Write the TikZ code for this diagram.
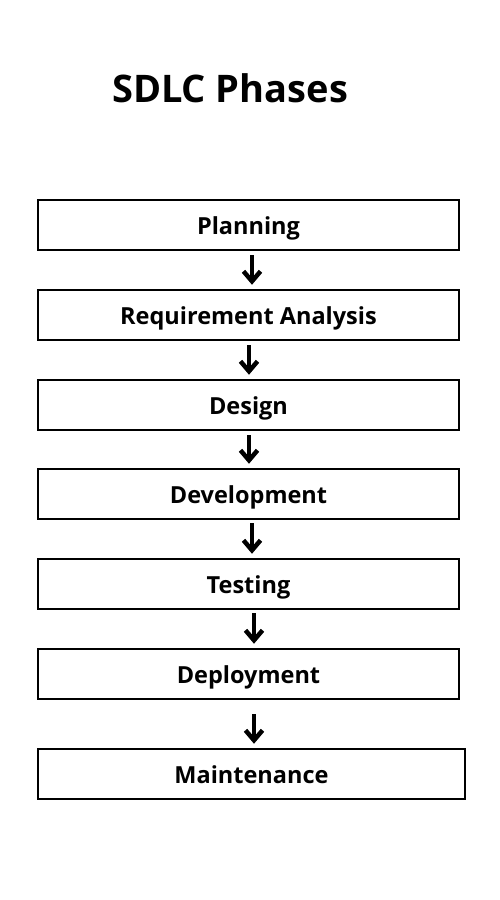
\documentclass[tikz,border=0pt]{standalone}
\usepackage{fontspec}
\setmainfont{Open Sans}
\usetikzlibrary{arrows.meta}
\begin{document}
\begin{tikzpicture}[x=1pt,y=-1pt,
  phase/.style={draw=black,line width=2.5pt,minimum height=50pt,inner sep=0pt,text height=18pt,text depth=0pt,font=\fontsize{23.5}{28}\selectfont\bfseries},
  flow/.style={line width=3.5pt,shorten <=4pt,shorten >=4pt,-{Straight Barb[length=10pt,width=17pt,line width=4.5pt]}}]
\useasboundingbox (0,0) rectangle (500,900);
\node[font=\fontsize{38}{45}\selectfont\bfseries] (title) at (230,88) {SDLC Phases};
\node[phase,minimum width=421pt] (p1) at (248.5,225) {Planning};
\node[phase,minimum width=421pt] (p2) at (248.5,315) {Requirement Analysis};
\node[phase,minimum width=421pt] (p3) at (248.5,405) {Design};
\node[phase,minimum width=421pt] (p4) at (248.5,494) {Development};
\node[phase,minimum width=421pt] (p5) at (248.5,584) {Testing};
\node[phase,minimum width=421pt] (p6) at (248.5,674) {Deployment};
\node[phase,minimum width=427pt] (p7) at (251.5,774) {Maintenance};
\draw[flow] ([xshift=3.5pt]p1.south) -- ([xshift=3.5pt]p1.south |- p2.north);
\draw[flow] ([xshift=0.5pt]p2.south) -- ([xshift=0.5pt]p2.south |- p3.north);
\draw[flow] ([xshift=0.5pt]p3.south) -- ([xshift=0.5pt]p3.south |- p4.north);
\draw[flow,shorten <=3pt] ([xshift=3.5pt]p4.south) -- ([xshift=3.5pt]p4.south |- p5.north);
\draw[flow,shorten <=3pt] ([xshift=5.5pt]p5.south) -- ([xshift=5.5pt]p5.south |- p6.north);
\draw[flow,shorten <=14pt] ([xshift=5.5pt]p6.south) -- ([xshift=5.5pt]p6.south |- p7.north);
\end{tikzpicture}
\end{document}
